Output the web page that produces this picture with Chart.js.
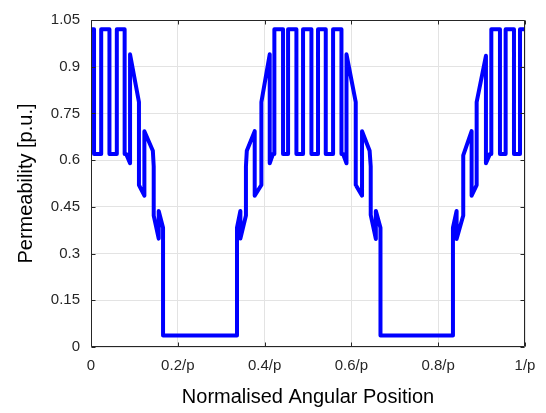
<!DOCTYPE html>
<html>
<head>
<meta charset="utf-8">
<script src="https://cdn.jsdelivr.net/npm/chart.js@4/dist/chart.umd.min.js"></script>
<style>
  html, body { margin: 0; padding: 0; background: #ffffff; }
  #wrap { width: 546px; height: 413px; }
</style>
</head>
<body>
<div id="wrap"><canvas id="c" width="546" height="413"></canvas></div>
<script>
// ---- data ----
const positions = [
  0, 0.007, 0.007, 0.0235, 0.0235, 0.0425, 0.0425, 0.0595, 0.0595, 0.0775,
  0.0775, 0.081, 0.09, 0.09, 0.1105, 0.1105, 0.123, 0.123, 0.1425, 0.1445,
  0.1445, 0.156, 0.156, 0.166, 0.166,
  0.3364, 0.3364, 0.3442, 0.3442, 0.357, 0.357, 0.359, 0.3772, 0.3772, 0.3926,
  0.3926, 0.4118, 0.4118, 0.4194, 0.4225, 0.4225, 0.4425, 0.4425, 0.4541, 0.4541,
  0.4733, 0.4733, 0.4886, 0.4886, 0.5079, 0.5079, 0.5231, 0.5231, 0.5409, 0.5409,
  0.5578, 0.5578, 0.5771, 0.5771, 0.5806, 0.5887, 0.5887, 0.61, 0.61, 0.6245,
  0.6245, 0.642, 0.6445, 0.6445, 0.6563, 0.6563, 0.667, 0.667,
  0.834, 0.834, 0.8424, 0.8424, 0.8577, 0.8577, 0.877, 0.877, 0.8886, 0.8886,
  0.91, 0.91, 0.9193, 0.9224, 0.9224, 0.9423, 0.9423, 0.9554, 0.9554, 0.9746,
  0.9746, 0.9885, 0.9885, 1
];
const permeability = [
  1.02, 1.02, 0.62, 0.62, 1.02, 1.02, 0.62, 0.62, 1.02, 1.02,
  0.62, 0.62, 0.59, 0.94, 0.786, 0.52, 0.486, 0.693, 0.63, 0.58,
  0.422, 0.348, 0.437, 0.383, 0.037,
  0.037, 0.383, 0.437, 0.348, 0.422, 0.58, 0.63, 0.693, 0.486, 0.52,
  0.786, 0.94, 0.59, 0.62, 0.62, 1.02, 1.02, 0.62, 0.62, 1.02,
  1.02, 0.62, 0.62, 1.02, 1.02, 0.62, 0.62, 1.02, 1.02, 0.62,
  0.62, 1.02, 1.02, 0.62, 0.62, 0.59, 0.94, 0.786, 0.52, 0.486,
  0.693, 0.63, 0.58, 0.424, 0.347, 0.437, 0.383, 0.037,
  0.037, 0.383, 0.437, 0.347, 0.422, 0.615, 0.693, 0.486, 0.52, 0.786,
  0.935, 0.59, 0.62, 0.62, 1.02, 1.02, 0.62, 0.62, 1.02, 1.02,
  0.62, 0.62, 1.02, 1.02
];
const xTickValues = [0, 0.2, 0.4, 0.6, 0.8, 1];
const xTickLabels = ['0', '0.2/p', '0.4/p', '0.6/p', '0.8/p', '1/p'];
const yTickValues = [0, 0.15, 0.3, 0.45, 0.6, 0.75, 0.9, 1.05];
const yTickLabels = ['0', '0.15', '0.3', '0.45', '0.6', '0.75', '0.9', '1.05'];
const xTitle = 'Normalised Angular Position';
const yTitle = 'Permeability [p.u.]';

// ---- chart ----
const points = positions.map((x, i) => ({ x: x, y: permeability[i] }));
const AXIS = '#262626';
const FONT = "'Liberation Sans', Arial, Helvetica, sans-serif";

const boxPlugin = {
  id: 'matlabBox',
  afterDatasetsDraw(chart) {
    const { ctx, chartArea: a, scales } = chart;
    ctx.save();
    ctx.strokeStyle = AXIS;
    ctx.lineWidth = 1;
    ctx.beginPath();
    const L = Math.round(a.left) + 0.5, R = Math.round(a.right) - 0.5;
    const T = Math.round(a.top) + 0.5, B = Math.round(a.bottom) - 0.5;
    ctx.rect(L, T, R - L, B - T);
    const tl = 4;
    xTickValues.forEach(v => {
      const px = Math.round(scales.x.getPixelForValue(v)) + 0.5;
      ctx.moveTo(px, B); ctx.lineTo(px, B - tl);
      ctx.moveTo(px, T); ctx.lineTo(px, T + tl);
    });
    yTickValues.forEach(v => {
      const py = Math.round(scales.y.getPixelForValue(v)) + 0.5;
      ctx.moveTo(L, py); ctx.lineTo(L + tl, py);
      ctx.moveTo(R, py); ctx.lineTo(R - tl, py);
    });
    ctx.stroke();
    ctx.restore();
  }
};

new Chart(document.getElementById('c'), {
  type: 'line',
  data: {
    datasets: [{
      data: points,
      borderColor: '#0000ff',
      borderWidth: 4,
      pointRadius: 0,
      tension: 0,
      fill: false,
      borderJoinStyle: 'round',
      borderCapStyle: 'round'
    }]
  },
  options: {
    responsive: false,
    animation: false,
    events: [],
    layout: { padding: { left: 0, top: 8, right: 21, bottom: 0 } },
    plugins: { legend: { display: false }, tooltip: { enabled: false } },
    scales: {
      x: {
        type: 'linear',
        min: 0, max: 1,
        afterBuildTicks: s => { s.ticks = xTickValues.map(v => ({ value: v })); },
        afterFit: s => { s.height = 66; },
        ticks: {
          autoSkip: false, maxRotation: 0,
          padding: 10,
          color: AXIS,
          font: { family: FONT, size: 15 },
          callback: (v, i) => xTickLabels[i]
        },
        grid: { color: '#e3e3e3', lineWidth: 1, drawTicks: false },
        border: { display: false },
        title: {
          display: true, text: xTitle, color: '#000000',
          font: { family: FONT, size: 20 },
          padding: { top: 0, bottom: 4 }
        }
      },
      y: {
        type: 'linear',
        min: 0, max: 1.05,
        afterBuildTicks: s => { s.ticks = yTickValues.map(v => ({ value: v })); },
        afterFit: s => { s.width = 91; },
        ticks: {
          autoSkip: false,
          padding: 11,
          color: AXIS,
          font: { family: FONT, size: 15 },
          callback: (v, i) => yTickLabels[i]
        },
        grid: { color: '#e3e3e3', lineWidth: 1, drawTicks: false },
        border: { display: false },
        title: {
          display: true, text: yTitle, color: '#000000',
          font: { family: FONT, size: 20 },
          padding: { top: 14, bottom: 0 }
        }
      }
    }
  },
  plugins: [boxPlugin]
});
</script>
</body>
</html>
